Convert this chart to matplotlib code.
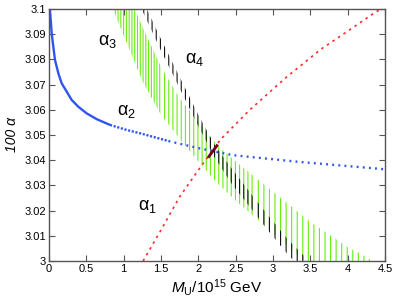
import matplotlib
matplotlib.use('Agg')
import matplotlib.pyplot as plt
import numpy as np

plt.rcParams['font.family'] = ['Liberation Sans', 'DejaVu Sans']
plt.rcParams['mathtext.fontset'] = 'custom'
plt.rcParams['mathtext.rm'] = 'Liberation Sans'
plt.rcParams['mathtext.it'] = 'Liberation Sans:italic'
plt.rcParams['hatch.linewidth'] = 0.8

# ---- data ----
# alpha_2 (blue)
a2_x = [0.005, 0.013, 0.036, 0.058, 0.080, 0.125, 0.170, 0.237, 0.304, 0.393, 0.504,
        0.638, 0.817, 1.04, 1.218, 1.60, 2.00, 2.46, 3.36, 4.50]
a2_y = [3.1000, 3.0996, 3.0904, 3.0850, 3.0798, 3.0745, 3.0705, 3.0672, 3.0639, 3.0612, 3.0586,
        3.0563, 3.0540, 3.0520, 3.0507, 3.0476, 3.0448, 3.0420, 3.0393, 3.0364]

# alpha_1 (red)
a1_x = [1.26, 1.50, 1.75, 2.02, 2.22, 2.29, 2.69, 3.17, 3.64, 3.99, 4.37, 4.45]
a1_y = [3.0000, 3.0123, 3.0255, 3.0369, 3.0450, 3.0480, 3.0600, 3.0727, 3.0840, 3.0910, 3.0987, 3.1000]

# alpha_3 (green band)
a3_x = np.array([0.80, 1.00, 1.25, 1.50, 1.75, 2.00, 2.25, 2.50, 2.75, 3.00, 3.25, 3.50,
                 3.75, 4.00, 4.25, 4.40])
a3_lo = [3.1040, 3.0895, 3.0715, 3.0580, 3.0485, 3.0395, 3.0310, 3.0240, 3.0175, 3.0110,
         3.0045, 2.9980, 2.9920, 2.9860, 2.9800, 2.9760]
a3_hi = [3.1250, 3.1100, 3.0930, 3.0770, 3.0645, 3.0555, 3.0460, 3.0395, 3.0335, 3.0275,
         3.0215, 3.0155, 3.0105, 3.0055, 3.0016, 2.9985]

# alpha_4 (black band)
a4_x = np.array([1.20, 1.50, 1.75, 2.00, 2.22, 2.45, 2.75, 2.95, 3.20, 3.45])
a4_hi = [3.1070, 3.0880, 3.0730, 3.0580, 3.0460, 3.0365, 3.0250, 3.0175, 3.0085, 3.0010]
a4_lo = [3.1025, 3.0835, 3.0685, 3.0535, 3.0410, 3.0305, 3.0192, 3.0115, 3.0025, 2.9950]

# unification crossing segment
cross_x = [2.13, 2.26]
cross_y = [3.0410, 3.0462]

x_ticks = [0, 0.5, 1, 1.5, 2, 2.5, 3, 3.5, 4, 4.5]
x_ticklabels = ['0', '0.5', '1', '1.5', '2', '2.5', '3', '3.5', '4', '4.5']
y_ticks = [3.0, 3.01, 3.02, 3.03, 3.04, 3.05, 3.06, 3.07, 3.08, 3.09, 3.1]
y_ticklabels = ['3', '3.01', '3.02', '3.03', '3.04', '3.05', '3.06', '3.07', '3.08', '3.09', '3.1']

labels = [r'α$_3$', r'α$_4$', r'α$_2$', r'α$_1$']
label_x = [0.656, 1.82, 0.91, 1.19]
label_y = [3.0857, 3.0786, 3.0580, 3.0202]

GREEN = '#66ee11'
BLACK = '#111111'
BLUE = '#2f55f0'
RED = '#ff2a2a'
MAROON = '#700020'
AXC = '#555555'

fig = plt.figure(figsize=(3.96, 3.04), dpi=100)
ax = fig.add_axes([49 / 396, 1 - 261 / 304, 336 / 396, 252 / 304])
ax.set_xlim(0, 4.5)
ax.set_ylim(3.0, 3.1)

# green band, hatch density varying by region
for xa, xb, h in [(0.80, 1.50, '||||||'), (1.50, 2.75, '||||'), (2.75, 4.40, '|||')]:
    m = (a3_x >= xa) & (a3_x <= xb)
    ax.fill_between(a3_x, a3_lo, a3_hi, where=m, facecolor='none', edgecolor=GREEN,
                    hatch=h, linewidth=0)

# black band
for xa, xb, h in [(1.20, 2.75, '||||'), (2.75, 3.45, '|||')]:
    m = (a4_x >= xa) & (a4_x <= xb)
    ax.fill_between(a4_x, a4_lo, a4_hi, where=m, facecolor='none', edgecolor=BLACK,
                    hatch=h, linewidth=0)

# blue alpha_2: dense (solid) on the left, finer dashes in the middle, dotted on the right
a2x = np.array(a2_x)
a2y = np.array(a2_y)
i1 = int(np.searchsorted(a2x, 0.817))
i2 = int(np.searchsorted(a2x, 1.60))
ax.plot(a2x[:i1 + 1], a2y[:i1 + 1], color=BLUE, lw=1.7, solid_capstyle='butt')
ax.plot(a2x[i1:i2 + 1], a2y[i1:i2 + 1], color=BLUE, lw=1.7, linestyle=(0, (0.9, 0.7)))
ax.plot(a2x[i2:], a2y[i2:], color=BLUE, lw=1.7, linestyle=(0, (0.8, 1.8)))

# red alpha_1
ax.plot(a1_x, a1_y, color=RED, lw=1.2, linestyle=(0, (1.5, 2.5)))

# crossing
ax.plot(cross_x, cross_y, color=MAROON, lw=2.0, solid_capstyle='butt')

for t, x, y in zip(labels, label_x, label_y):
    ax.text(x, y, t, fontsize=13, ha='left', va='baseline')

ax.set_xticks(x_ticks)
ax.set_xticklabels(x_ticklabels)
ax.set_yticks(y_ticks)
ax.set_yticklabels(y_ticklabels)
ax.tick_params(direction='in', top=True, right=True, length=4, width=0.8,
               color=AXC, labelsize=8, pad=2)
for s in ax.spines.values():
    s.set_color(AXC)
    s.set_linewidth(1.0)

ax.set_xlabel(r'$\mathit{M}_{\mathrm{U}}\mathit{/10}^{\mathit{15}}$ GeV', fontsize=11, labelpad=2)
ax.set_ylabel('100 α', fontsize=10, fontstyle='italic', labelpad=4)

fig.savefig('out.png', dpi=100)
